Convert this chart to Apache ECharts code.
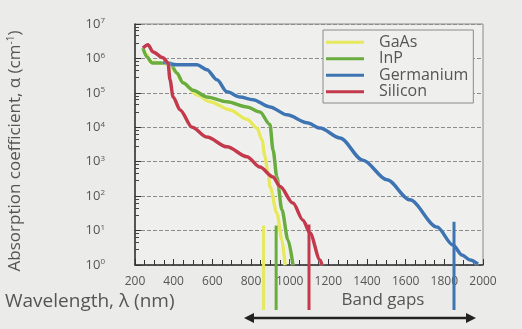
<!DOCTYPE html>
<html>
<head>
<meta charset="utf-8">
<script src="https://cdn.jsdelivr.net/npm/echarts@6/dist/echarts.min.js"></script>
<style>
  html, body { margin: 0; padding: 0; background: #ebebe9; }
  #chart { width: 522px; height: 329px; }
</style>
</head>
<body>
<div id="chart"></div>
<script>
// Absorption coefficient (cm^-1) against wavelength (nm) for four semiconductors
const materials = ['GaAs', 'InP', 'Germanium', 'Silicon'];
const materialColors = ['#e6e85e', '#68ad3e', '#3f74b3', '#c23a4c'];

const gaasWavelength = [241, 262, 278, 329, 381, 407, 448, 521, 588, 691, 779, 831, 857, 872, 888, 898, 934, 960, 976];
const gaasAlpha      = [2.0e6, 1.3e6, 8.0e5, 7.4e5, 6.5e5, 4.1e5, 1.95e5, 8.7e4, 5.5e4, 3.2e4, 1.7e4, 9.5e3, 4.3e3, 1.4e3, 470, 190, 32, 5.4, 1];

const inpWavelength = [241, 262, 288, 345, 381, 417, 448, 500, 572, 676, 779, 846, 898, 914, 934, 960, 991, 1017];
const inpAlpha      = [2.0e6, 1.1e6, 7.4e5, 7.4e5, 7.4e5, 3.8e5, 1.95e5, 1.2e5, 7.6e4, 5.5e4, 3.9e4, 2.8e4, 1.2e4, 2.2e3, 360, 40, 5.4, 1];

const geWavelength = [345, 417, 521, 572, 624, 676, 743, 810, 898, 986, 1090, 1157, 1260, 1379, 1503, 1622, 1762, 1845, 1891, 1933, 1974];
const geAlpha      = [8.0e5, 6.5e5, 6.5e5, 4.7e5, 2.4e5, 1.07e5, 7.6e4, 6.3e4, 3.9e4, 2.3e4, 1.35e4, 9.5e3, 4.9e3, 1.1e3, 300, 78, 12.6, 3.8, 1.95, 1.4, 1.07];

const siWavelength = [241, 267, 293, 345, 371, 381, 397, 433, 495, 572, 676, 779, 846, 914, 950, 1017, 1069, 1105, 1157, 1167];
const siAlpha      = [2.0e6, 2.5e6, 1.55e6, 1.05e6, 7.4e5, 2.4e5, 7.6e4, 3.2e4, 1.0e4, 5.2e3, 2.7e3, 1.4e3, 700, 360, 190, 63, 20, 8.5, 1.4, 1];

// Band-gap wavelengths (nm), which material each belongs to, and the alpha where each marker starts
const bandGapMaterial   = ['GaAs', 'InP', 'Silicon', 'Germanium'];
const bandGapWavelength = [865, 930, 1100, 1850];
const bandGapTopAlpha   = [14, 14, 15, 18];

const xTicks = [200, 400, 600, 800, 1000, 1200, 1400, 1600, 1800, 2000];

const pairs = (xs, ys) => xs.map((x, i) => [x, ys[i]]);
const curveData = [
  pairs(gaasWavelength, gaasAlpha),
  pairs(inpWavelength, inpAlpha),
  pairs(geWavelength, geAlpha),
  pairs(siWavelength, siAlpha)
];
const colorOf = name => materialColors[materials.indexOf(name)];

const textColor = '#555';
const font = 'Open Sans';

const chart = echarts.init(document.getElementById('chart'));

const lineSeries = materials.map((name, i) => ({
  name: name,
  type: 'line',
  data: curveData[i],
  showSymbol: false,
  smooth: 0.3,
  smoothMonotone: 'x',
  color: materialColors[i],
  lineStyle: {
    width: 3.5,
    color: materialColors[i],
    shadowColor: 'rgba(255,255,255,0.7)',
    shadowBlur: 2
  },
  z: 3
}));

// Vertical band-gap markers that run from the curve region down past the axis
const bandGapSeries = {
  type: 'custom',
  name: 'bandgap',
  clip: false,
  silent: true,
  data: bandGapWavelength.map((w, i) => ({
    value: [w, bandGapTopAlpha[i]],
    itemStyle: { color: colorOf(bandGapMaterial[i]) }
  })),
  renderItem: function (params, api) {
    const top = api.coord([api.value(0), api.value(1)]);
    const base = api.coord([api.value(0), 1]);
    return {
      type: 'line',
      shape: { x1: top[0], y1: top[1], x2: top[0], y2: base[1] + 45 },
      style: { stroke: api.visual('color'), lineWidth: 3, fill: null }
    };
  },
  z: 4
};

chart.setOption({
  backgroundColor: '#ebebe9',
  animation: false,
  textStyle: { fontFamily: font },
  grid: {
    left: 135, right: 39, top: 24, bottom: 64,
    show: true, borderColor: '#8a8a8a', borderWidth: 1,
    backgroundColor: '#efefed'
  },
  legend: {
    data: materials,
    orient: 'vertical',
    left: 323, top: 30,
    padding: [4, 5, 3, 3],
    itemGap: 0,
    itemWidth: 38,
    itemHeight: 3,
    icon: 'rect',
    borderColor: '#8a8a8a',
    borderWidth: 1,
    backgroundColor: '#efefed',
    textStyle: { fontSize: 16, color: textColor, fontFamily: font, lineHeight: 16.5, padding: [0, 0, 0, 10] }
  },
  xAxis: {
    type: 'value',
    min: xTicks[0], max: xTicks[xTicks.length - 1], interval: 200,
    axisLine: { show: true, lineStyle: { color: '#333', width: 1.5 } },
    axisTick: { show: true, inside: true, length: 6, lineStyle: { color: '#333' } },
    minorTick: { show: true, splitNumber: 4, length: 5, lineStyle: { color: '#333' } },
    splitLine: { show: false },
    axisLabel: { fontSize: 12, color: textColor, margin: 11, fontFamily: font, formatter: v => String(v) }
  },
  yAxis: {
    type: 'log', logBase: 10, min: 1, max: 1e7, splitNumber: 7,
    axisLine: { show: true, lineStyle: { color: '#333', width: 1.5 } },
    axisTick: { show: true, inside: true, length: 6, lineStyle: { color: '#333' } },
    minorTick: { show: true, splitNumber: 5, length: 4, lineStyle: { color: '#444' } },
    splitLine: { show: true, lineStyle: { color: '#8c8c8c', type: 'dashed', width: 1 } },
    axisLabel: {
      margin: 30, color: textColor, fontSize: 13, fontFamily: font,
      formatter: v => '10{s|' + Math.round(Math.log10(v)) + '}',
      rich: { s: { fontSize: 8, verticalAlign: 'top', color: textColor, fontFamily: font, padding: [0, 0, 6, 0] } }
    }
  },
  graphic: [
    {
      type: 'text', x: 15, y: 151, rotation: Math.PI / 2,
      style: {
        text: 'Absorption coefficient, α (cm{s|-1})',
        fill: textColor, font: '17px "Open Sans"',
        align: 'center', verticalAlign: 'middle',
        rich: { s: { fontSize: 10, fill: textColor, fontFamily: font, verticalAlign: 'top', padding: [0, 0, 8, 0] } }
      }
    },
    {
      type: 'text', x: 5, y: 302,
      style: { text: 'Wavelength, λ (nm)', fill: textColor, font: '19px "Open Sans"', verticalAlign: 'middle' }
    },
    {
      type: 'text', x: 383, y: 300,
      style: { text: 'Band gaps', fill: textColor, font: '17px "Open Sans"', align: 'center', verticalAlign: 'middle' }
    },
    {
      type: 'line', shape: { x1: 250, y1: 318, x2: 470, y2: 318 },
      style: { stroke: '#222', lineWidth: 2.5 }
    },
    {
      type: 'polygon', shape: { points: [[244, 318], [254, 313], [254, 323]] },
      style: { fill: '#222' }
    },
    {
      type: 'polygon', shape: { points: [[476, 318], [466, 313], [466, 323]] },
      style: { fill: '#222' }
    }
  ],
  series: lineSeries.concat([bandGapSeries])
});
</script>
</body>
</html>
